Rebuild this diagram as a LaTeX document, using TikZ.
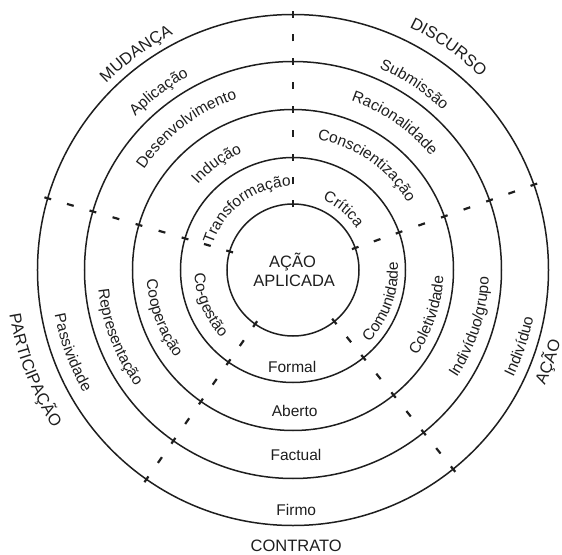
\documentclass[tikz,border=0pt]{standalone}
\usepackage{fontspec}
\setmainfont{Liberation Sans}
\usetikzlibrary{decorations.text}
\definecolor{ink}{HTML}{1E1E1E}
\newcommand\lblfont{\fontsize{15.5}{18}\selectfont}
\newcommand\catfont{\fontsize{16.5}{19}\selectfont}
% clockwise label (upper half): angle, baseline radius, font, text
\newcommand\cwlabel[4]{%
  \path[decorate, decoration={text along path, text={|#3|#4}, text align=center, text color=ink}]
    ({#1+60}:#2) arc[start angle={#1+60}, end angle={#1-60}, radius=#2];}
% counter-clockwise label: angle, baseline radius, font, text
\newcommand\ccwlabel[4]{%
  \path[decorate, decoration={text along path, text={|#3|#4}, text align=center, text color=ink}]
    ({#1-60}:#2) arc[start angle={#1-60}, end angle={#1+60}, radius=#2];}
\begin{document}
\begin{tikzpicture}[x=1pt,y=1pt,
  ring/.style={draw=ink, line width=1.5pt},
  spokedash/.style={draw=ink, line width=2.2pt},
  flat/.style={text=ink, font=\lblfont, anchor=base, inner sep=0pt},
  cat/.style={text=ink, font=\catfont, anchor=base, inner sep=0pt}]
\useasboundingbox (-293,-284) rectangle (269,270);
\coordinate (c) at (0,0);
% circles
\foreach \r in {66,112.5,160.5,208.5,255.5}
  \draw[ring] (c) circle[radius=\r];
% dashed spokes
\foreach \a in {90,163.7,235,308.8,19.5}
  \foreach \r in {66,89.25,112.5,136.5,160.5,184.5,208.5,232,255.5}
    \draw[spokedash] ({\a}:{\r-3.5}) -- ({\a}:{\r+3.5});
% centre
\node[cat] (acao) at (-0.5,2.7) {AÇÃO};
\node[cat] (aplicada) at (1.2,-16.7) {APLICADA};
% MUDANÇA sector
\cwlabel{126}{264}{\catfont}{MUDANÇA}
\cwlabel{127}{220}{\lblfont}{Aplicação}
\cwlabel{127}{180}{\lblfont}{Desenvolvimento}
\cwlabel{125.7}{128}{\lblfont}{Indução}
\cwlabel{127}{84}{\lblfont}{Transformação}
% DISCURSO sector
\cwlabel{55.1}{269}{\catfont}{DISCURSO}
\cwlabel{56.8}{219}{\lblfont}{Submissão}
\cwlabel{55.3}{179}{\lblfont}{Racionalidade}
\cwlabel{55}{133}{\lblfont}{Conscientização}
\cwlabel{50.2}{76}{\lblfont}{Crítica}
% AÇÃO sector
\ccwlabel{-19.8}{277}{\catfont}{AÇÃO}
\ccwlabel{-18.6}{245}{\lblfont}{Indivíduo}
\ccwlabel{-17.7}{196}{\lblfont}{Indivíduo/grupo}
\ccwlabel{-18.5}{150.5}{\lblfont}{Coletividade}
\ccwlabel{-19.6}{105}{\lblfont}{Comunidade}
% PARTICIPAÇÃO sector
\ccwlabel{201.1}{287}{\catfont}{PARTICIPAÇÃO}
\ccwlabel{200.5}{242.6}{\lblfont}{Passividade}
\ccwlabel{201}{195.5}{\lblfont}{Representação}
\ccwlabel{200.2}{146.6}{\lblfont}{Cooperação}
\ccwlabel{202.7}{98.6}{\lblfont}{Co-gestão}
% CONTRATO sector
\node[flat] (formal) at (-0.8,-102.3) {Formal};
\node[flat] (aberto) at (1.7,-146.7) {Aberto};
\node[flat] (factual) at (3,-190) {Factual};
\node[flat] (firmo) at (3.3,-245.7) {Firmo};
\node[cat] (contrato) at (3.2,-281.7) {CONTRATO};
\end{tikzpicture}
\end{document}
